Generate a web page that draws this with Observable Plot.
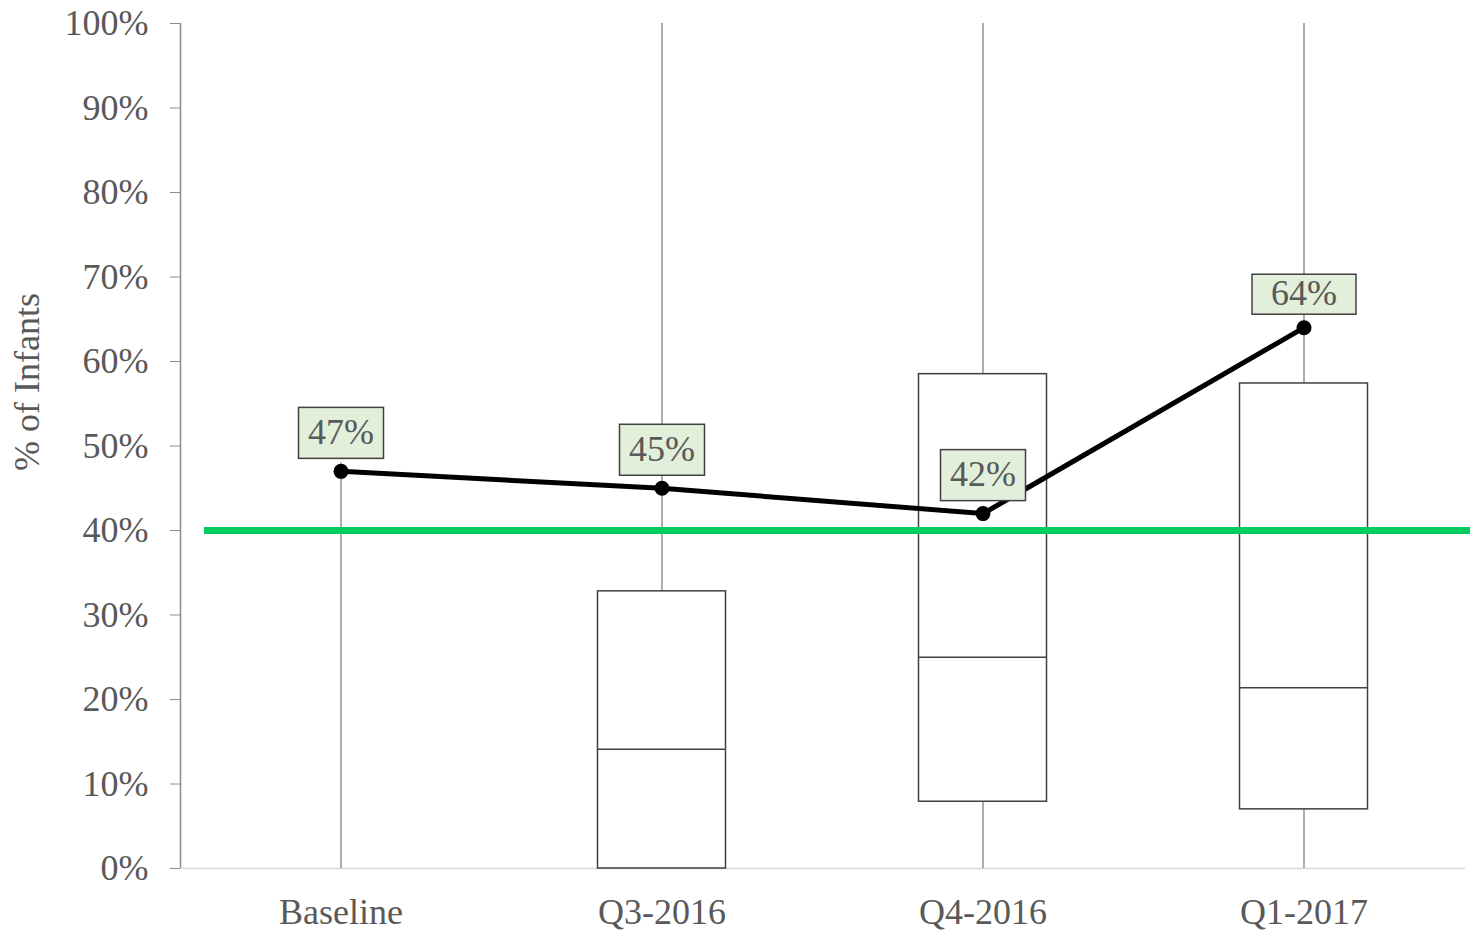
<!DOCTYPE html>
<html>
<head>
<meta charset="utf-8">
<script src="https://cdn.jsdelivr.net/npm/d3@7"></script>
<script src="https://cdn.jsdelivr.net/npm/@observablehq/plot@0.6"></script>
<style>
  html, body { margin: 0; padding: 0; background: #fff; }
  #chart { width: 1470px; height: 932px; }
</style>
</head>
<body>
<div id="chart"></div>
<script>
const categories = ["Baseline", "Q3-2016", "Q4-2016", "Q1-2017"];
const whiskerLow  = [0, 0, 0, 0];
const whiskerHigh = [0.48, 1.0, 1.0, 1.0];
const boxQ1       = [null, 0, 0.079, 0.07];
const boxMedian   = [null, 0.141, 0.25, 0.214];
const boxQ3       = [null, 0.328, 0.585, 0.574];
const lineValues  = [0.47, 0.45, 0.42, 0.64];
const targetValue = 0.40;
const yTicks = [0, 0.1, 0.2, 0.3, 0.4, 0.5, 0.6, 0.7, 0.8, 0.9, 1.0];

const boxes = categories.map((c, i) => ({
  cat: c, low: whiskerLow[i], high: whiskerHigh[i],
  q1: boxQ1[i], med: boxMedian[i], q3: boxQ3[i]
}));
const boxed = boxes.filter(d => d.q1 != null);
const line = categories.map((c, i) => ({cat: c, v: lineValues[i]}));

const FONT = "'Liberation Serif', 'DejaVu Serif', serif";
const GRAY = "#595959";
const FS = 36;
const INSET = 96.5;

const chart = Plot.plot({
  width: 1470,
  height: 932,
  marginLeft: 180,
  marginRight: 0,
  marginTop: 23,
  marginBottom: 64,
  style: {fontFamily: FONT, fontSize: FS + "px", color: GRAY, background: "#fff", overflow: "visible"},
  x: {domain: categories, range: [180, 1464], padding: 0, axis: null},
  y: {domain: [0, 1], axis: null},
  marks: [
    Plot.axisY({ticks: yTicks, tickFormat: d3.format(".0%"), tickSize: 10, tickPadding: 22,
                stroke: "#8c8c8c", fill: GRAY, label: null, fontSize: FS}),
    Plot.ruleY([0], {stroke: "#d9d9d9", strokeWidth: 1.5, insetRight: 5}),
    Plot.axisX({tickSize: 0, tickPadding: 30, fill: GRAY, label: null, fontSize: FS}),
    Plot.text(["% of Infants"], {frameAnchor: "left", textAnchor: "middle", dx: -153, dy: -64, rotate: -90,
                fill: GRAY, fontSize: FS, fontFamily: FONT}),
    Plot.ruleX(boxes, {x: "cat", y1: "low", y2: "high", stroke: "#808080", strokeWidth: 1.3}),
    Plot.barY(boxed, {x: "cat", y1: "q1", y2: "q3", fill: "#fff", stroke: "#404040",
                strokeWidth: 1.5, insetLeft: INSET, insetRight: INSET}),
    Plot.tickY(boxed, {x: "cat", y: "med", stroke: "#404040", strokeWidth: 1.5,
                insetLeft: INSET, insetRight: INSET}),
    Plot.ruleY([targetValue], {stroke: "#00cc5f", strokeWidth: 7, insetLeft: 24}),
    Plot.lineY(line, {x: "cat", y: "v", stroke: "#000", strokeWidth: 5}),
    Plot.dot(line, {x: "cat", y: "v", r: 7.5, fill: "#000"}),
    Plot.text(line, {x: "cat", y: "v", text: d => d3.format(".0%")(d.v), dy: -39,
                fill: GRAY, fontSize: FS, fontFamily: FONT, ariaDescription: "vlabel"})
  ]
});
document.getElementById("chart").appendChild(chart);

const SVGNS = "http://www.w3.org/2000/svg";
const svg = chart.tagName.toLowerCase() === "svg" ? chart : chart.querySelector("svg");

// y axis line drawn with the chart's own y scale
const ys = chart.scale("y");
const axisLine = document.createElementNS(SVGNS, "line");
axisLine.setAttribute("x1", 180.5); axisLine.setAttribute("x2", 180.5);
axisLine.setAttribute("y1", ys.apply(1)); axisLine.setAttribute("y2", ys.apply(0));
axisLine.setAttribute("stroke", "#8c8c8c"); axisLine.setAttribute("stroke-width", 1.5);
svg.appendChild(axisLine);

// light green framed boxes behind the value labels
const boxW = [85, 85, 85, 104];
const boxH = [51, 51, 51, 40];
const shift = [0, 0, 0, 5];
let labelG = svg.querySelector('g[aria-description="vlabel"]');
if (!labelG) {
  const gs = [...svg.querySelectorAll('g[aria-label="text"]')].filter(g => g.querySelectorAll("text").length === 4);
  labelG = gs[gs.length - 1];
}
if (labelG) {
  labelG.querySelectorAll("text").forEach((t, i) => {
    const bb = t.getBBox();
    const cx = bb.x + bb.width / 2, cy = bb.y + bb.height / 2;
    const r = document.createElementNS(SVGNS, "rect");
    r.setAttribute("x", cx - boxW[i] / 2);
    r.setAttribute("y", cy - boxH[i] / 2 + 1);
    r.setAttribute("width", boxW[i]);
    r.setAttribute("height", boxH[i]);
    r.setAttribute("fill", "#e2efda");
    r.setAttribute("stroke", "#404040");
    r.setAttribute("stroke-width", 1.5);
    const tr = (t.getAttribute("transform") || "") + (shift[i] ? ` translate(0,${shift[i]})` : "");
    if (tr.trim()) { r.setAttribute("transform", tr); t.setAttribute("transform", tr); }
    t.parentNode.insertBefore(r, t);
  });
}
</script>
</body>
</html>
